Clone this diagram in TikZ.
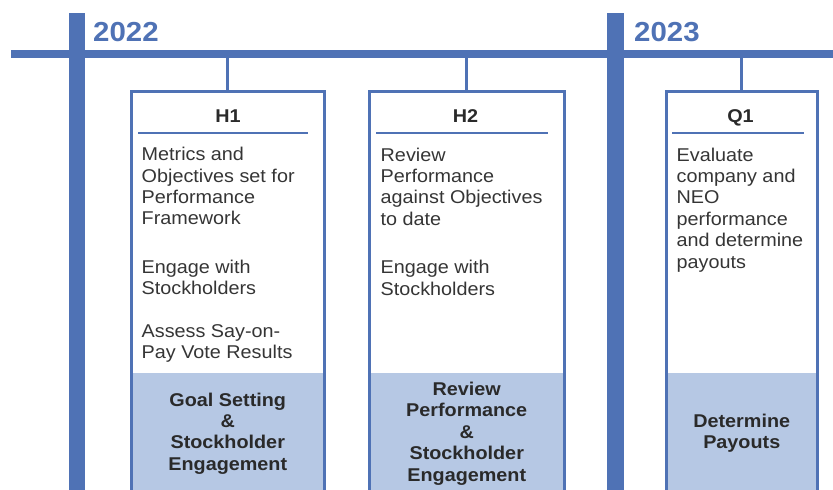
\documentclass[tikz,border=0pt]{standalone}
\usepackage{fontspec}
\setmainfont{Liberation Sans}[FakeStretch=1.07]
\usetikzlibrary{positioning}
\definecolor{tlblue}{HTML}{4F72B5}
\definecolor{tlfill}{HTML}{B6C8E4}
\definecolor{tltext}{HTML}{2A2A2A}
\definecolor{tlbody}{HTML}{353535}

\begin{document}
\begin{tikzpicture}[x=1pt,y=-1pt]
        \tikzset{yearbar/.style={draw=tlblue,line width=16.5pt},
            mainbar/.style={draw=tlblue,line width=8pt},
            link/.style={draw=tlblue,line width=3pt},
            period/.style={draw=tlblue,line width=3pt,inner sep=0pt,outer sep=0pt,
                anchor=north,minimum height=430pt},
            rule/.style={draw=tlblue,line width=2.5pt},
            foot/.style={fill=tlfill,inner sep=0pt,outer sep=0pt,anchor=north,
                minimum height=121pt,align=center,text=tltext,
                font=\bfseries\fontsize{18.5}{21.4}\selectfont},
            head/.style={anchor=base,text=tltext,font=\bfseries\fontsize{18.5}{21.4}\selectfont},
            body/.style={anchor=base west,inner sep=0pt,align=left,text=tlbody,
                font=\fontsize{18.5}{21.4}\selectfont},
            year/.style={anchor=base west,inner sep=0pt,text=tlblue,
                font=\bfseries\fontsize{27.5}{30}\selectfont}}
        \useasboundingbox (0,0) rectangle (833,490);
        \clip (0,0) rectangle (833,490);
        % timeline
        \coordinate (bar) at (0,54);
        \draw[yearbar] (77,13) -- (77,500);
        \draw[yearbar] (615.5,13) -- (615.5,500);
        \draw[mainbar] (11,54) -- (833,54);
        \node[year] (y22) at (93,41) {2022};
        \node[year] (y23) at (634,41) {2023};
        % shaded bottoms
        \node[foot,minimum width=192.5pt] (h1foot) at (227.75,373) {Goal Setting\\ \&\\ Stockholder\\ Engagement};
        \node[foot,minimum width=194.5pt] (h2foot) at (466.75,373) {Review\\ Performance\\ \&\\ Stockholder\\ Engagement};
        \node[foot,minimum width=150.5pt] (q1foot) at (741.75,373) {Determine\\ Payouts};
        % period boxes
        \node[period,minimum width=192.5pt] (h1) at (227.75,91.5) {};
        \node[period,minimum width=194.5pt] (h2) at (466.75,91.5) {};
        \node[period,minimum width=150.5pt] (q1) at (741.75,91.5) {};
        \foreach \p in {h1,h2,q1}
            \draw[link] (bar -| \p.north) -- (\p.north);
        \node[head] (h1head) at (228,122) {H1};
        \node[head] (h2head) at (465.5,122) {H2};
        \node[head] (q1head) at (740.5,122) {Q1};
        \draw[rule] (138,133) -- (308,133);
        \draw[rule] (376,133) -- (548,133);
        \draw[rule] (672,133) -- (804,133);
        % body texts, placed by their last line
        \node[body] (h1text) at (141.5,358.5) {Metrics and\\ Objectives set for\\ Performance\\ Framework\\[27pt]
            Engage with\\ Stockholders\\[21pt] Assess Say-on-\\ Pay Vote Results};
        \node[body] (h2text) at (380.5,295) {Review\\ Performance\\ against Objectives\\ to date\\[27pt]
            Engage with\\ Stockholders};
        \node[body] (q1text) at (676.5,268) {Evaluate\\ company and\\ NEO\\ performance\\ and determine\\ payouts};
    \end{tikzpicture}
\end{document}
